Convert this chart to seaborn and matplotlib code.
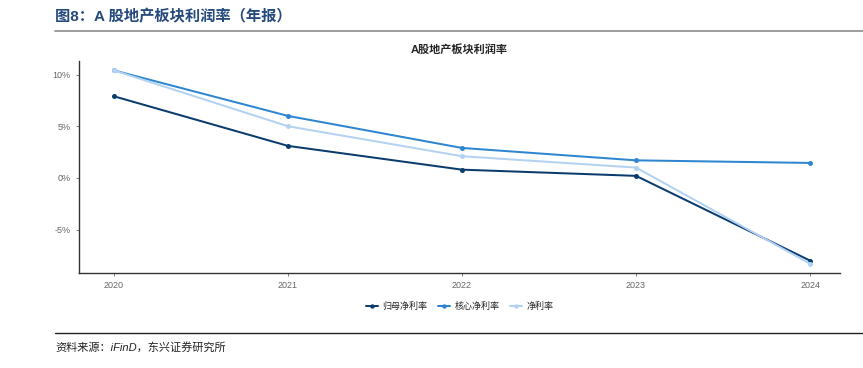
import pandas as pd
import matplotlib
matplotlib.use("Agg")
import matplotlib.pyplot as plt
import matplotlib.ticker as mticker
from matplotlib.lines import Line2D
import seaborn as sns

# 数据（单位：%）
years = [2020, 2021, 2022, 2023, 2024]
guimu = [7.9, 3.1, 0.8, 0.2, -8.0]      # 归母净利率
hexin = [10.4, 6.0, 2.9, 1.7, 1.45]     # 核心净利率
jingli = [10.4, 5.0, 2.1, 1.0, -8.3]    # 净利率
series_names = ["归母净利率", "核心净利率", "净利率"]
colors = ["#0b3c6e", "#2f86d0", "#b3d2f2"]

sns.set_theme(style="white")
plt.rcParams['font.family'] = ['Liberation Sans', 'Noto Sans CJK SC', 'DejaVu Sans']
plt.rcParams['axes.unicode_minus'] = False

df = pd.DataFrame({
    "year": years * 3,
    "value": guimu + hexin + jingli,
    "series": sum([[n] * len(years) for n in series_names], []),
})

fig = plt.figure(figsize=(8.63, 3.68), dpi=100)
ax = fig.add_axes([0.0915, 0.258, 0.8815, 0.576])

sns.lineplot(data=df, x="year", y="value", hue="series", hue_order=series_names,
             palette=colors, marker="o", markersize=3.6, markeredgewidth=0,
             linewidth=1.45, ax=ax, legend=False)

ax.set_xlim(2019.8, 2024.17)
ax.set_ylim(-9.2, 11.3)
ax.set_xticks(years)
ax.set_yticks([-5, 0, 5, 10])
ax.yaxis.set_major_formatter(mticker.FuncFormatter(lambda v, p: f"{v:.0f}%"))
ax.tick_params(axis="both", labelsize=6.5, colors="#666666", length=2.5,
               width=0.6, direction="out", left=True, bottom=True)
ax.set_xlabel("")
ax.set_ylabel("")
for s in ["top", "right"]:
    ax.spines[s].set_visible(False)
for s in ["left", "bottom"]:
    ax.spines[s].set_color("#333333")
    ax.spines[s].set_linewidth(1.0)
ax.set_title("A股地产板块利润率", fontsize=8, fontweight="bold", pad=6)

handles = [Line2D([0], [0], color=c, lw=1.45, marker="o", markersize=3.2,
                  markeredgewidth=0) for c in colors]
fig.legend(handles, series_names, loc="center", bbox_to_anchor=(0.533, 0.168),
           ncol=3, frameon=False, fontsize=6.5, handlelength=1.3,
           handletextpad=0.5, columnspacing=1.2)

# 页眉与资料来源
fig.text(0.064, 0.954, "图8：A 股地产板块利润率（年报）", fontsize=11,
         fontweight="bold", color="#24497c", va="center", ha="left")
fig.add_artist(Line2D([0.064, 1.0], [0.916, 0.916], color="#8c8c8c", lw=1.2))
fig.add_artist(Line2D([0.064, 1.0], [0.095, 0.095], color="#222222", lw=1.0))
fig.text(0.064, 0.057, "资料来源：iFinD，东兴证券研究所", fontsize=8,
         style="italic", color="#222222", va="center", ha="left")

fig.savefig("out.png", dpi=100)
